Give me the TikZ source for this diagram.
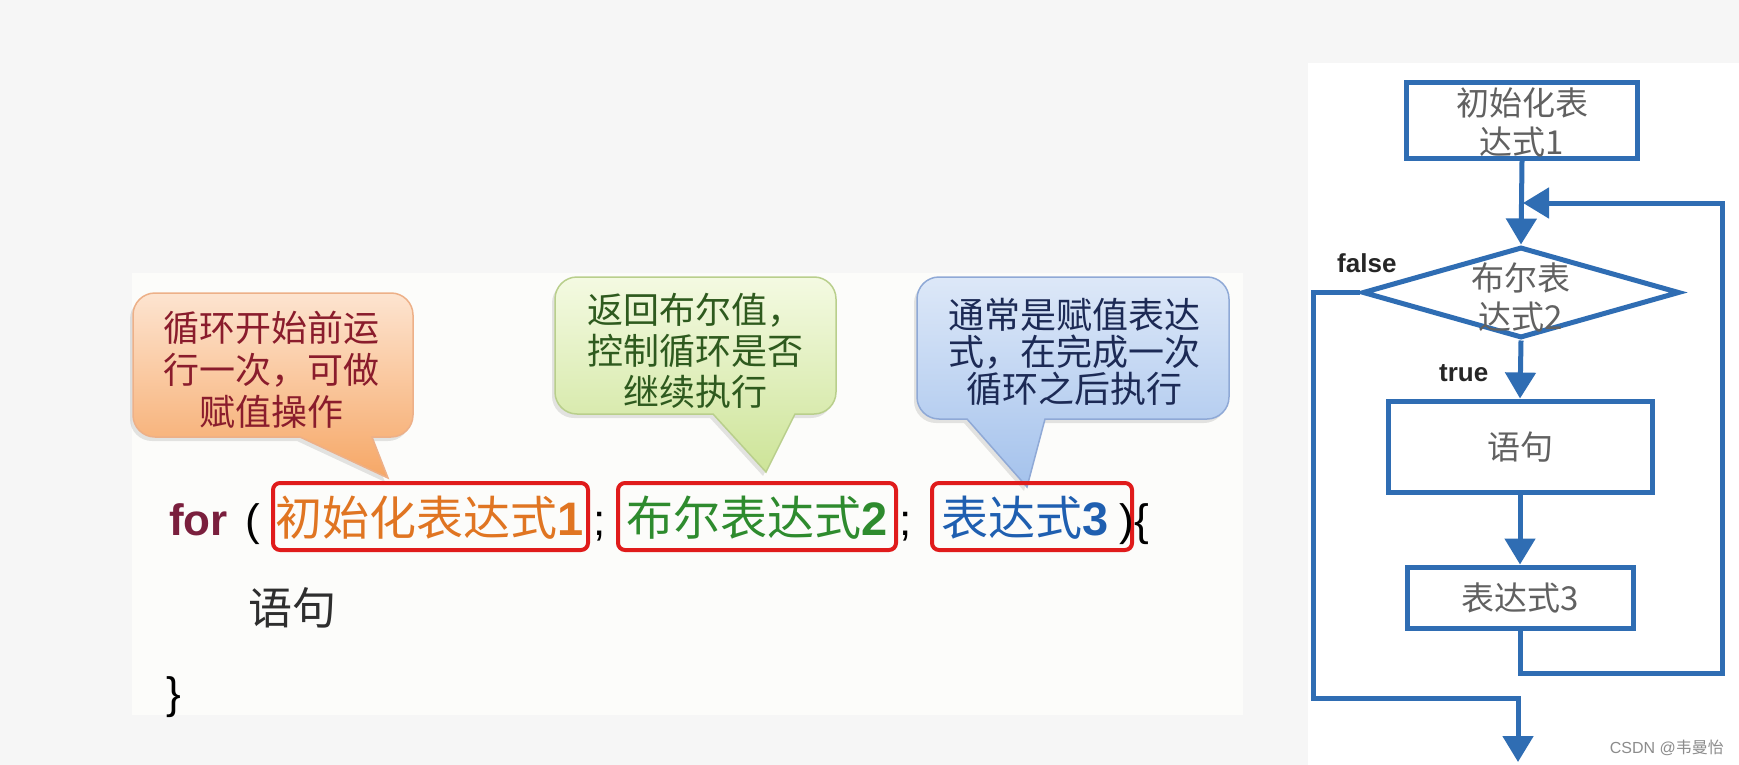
\documentclass[tikz,border=0pt]{standalone}
\usepackage{fontspec}
\setmainfont{Liberation Sans}
\newfontfamily\cjk{Noto Sans CJK SC}
\newfontfamily\lib{Liberation Sans}
\usetikzlibrary{arrows.meta,shapes.geometric}
\definecolor{bgout}{HTML}{F6F6F6}
\definecolor{bgleft}{HTML}{FCFCFA}
\definecolor{fcblue}{HTML}{2F6DB3}
\definecolor{boxred}{HTML}{E01B1B}
\definecolor{forred}{HTML}{7A1F3D}
\definecolor{corange}{HTML}{E07522}
\definecolor{cgreen}{HTML}{2E8B2E}
\definecolor{cblue}{HTML}{1F5FB0}
\definecolor{otext}{HTML}{8A1C2C}
\definecolor{gtext}{HTML}{2E5A1E}
\definecolor{btext}{HTML}{1C2A55}
\definecolor{otop}{HTML}{FDE4D0}
\definecolor{obot}{HTML}{F6A766}
\definecolor{oline}{HTML}{EDB088}
\definecolor{gtop}{HTML}{F4FAE2}
\definecolor{gbot}{HTML}{CDE498}
\definecolor{gline}{HTML}{B9CF8C}
\definecolor{btop}{HTML}{DDE8F8}
\definecolor{bbot}{HTML}{A4C2EC}
\definecolor{bline}{HTML}{8FA9D6}
\newcommand\callpath[9]{(#1+#5,#2) -- (#3-#5,#2) arc[start angle=270,end angle=360,radius=#5] -- (#3,#4-#5) arc[start angle=0,end angle=90,radius=#5] -- (#7,#4) -- (#8,#9) -- (#6,#4) -- (#1+#5,#4) arc[start angle=90,end angle=180,radius=#5] -- (#1,#2+#5) arc[start angle=180,end angle=270,radius=#5] -- cycle}
\begin{document}
\begin{tikzpicture}[x=1pt,y=-1pt,
  ctext/.style={align=center,inner sep=0pt,font=\cjk\fontsize{36}{#1}\selectfont},
  code/.style={inner sep=0pt,font=\cjk\fontsize{47}{52}\selectfont},
  lat/.style={inner sep=0pt,font=\lib\fontsize{44}{50}\selectfont},
  redbox/.style={draw=boxred,line width=4pt,rounded corners=7pt,minimum height=67pt,inner sep=0pt},
  fcbox/.style={draw=fcblue,line width=5pt,inner sep=0pt},
  fctext/.style={align=center,inner sep=0pt,text=black!62,font=\cjk\fontsize{33}{39}\selectfont},
  fcline/.style={draw=fcblue,line width=5pt},
  arr/.style={-{Triangle[width=30pt,length=26pt]}},
  lbl/.style={inner sep=0pt,text=black!85,font=\lib\bfseries\fontsize{26}{30}\selectfont}]
\useasboundingbox (0,0) rectangle (1739,765);
\fill[bgout] (0,0) rectangle (1739,765);
\fill[bgleft] (132,273) rectangle (1243,715);
\fill[white] (1308,63) rectangle (1739,765);

% callout shadows
\fill[black,opacity=0.10] [shift={(-3,4)}] \callpath{133}{293}{413}{437}{22}{300}{372}{388}{478};
\fill[black,opacity=0.10] [shift={(-3,4)}] \callpath{555}{277}{836}{414}{22}{713}{795}{766}{472};
\fill[black,opacity=0.10] [shift={(-3,4)}] \callpath{917}{277}{1229}{419}{22}{967}{1045}{1027}{487};
% callouts
\draw[line width=1.5pt,draw=oline,top color=otop,bottom color=obot] \callpath{133}{293}{413}{437}{22}{300}{372}{388}{478};
\draw[line width=1.5pt,draw=gline,top color=gtop,bottom color=gbot] \callpath{555}{277}{836}{414}{22}{713}{795}{766}{472};
\draw[line width=1.5pt,draw=bline,top color=btop,bottom color=bbot] \callpath{917}{277}{1229}{419}{22}{967}{1045}{1027}{487};

\node[ctext=42,text=otext] (co1) at (271,370) {循环开始前运\\行一次，可做\\赋值操作};
\node[ctext=41,text=gtext] (co2) at (695,351) {返回布尔值，\\控制循环是否\\继续执行};
\node[ctext=37,text=btext] (co3) at (1074,352) {通常是赋值表达\\式，在完成一次\\循环之后执行};

% code
\node[lat,anchor=base west,text=forred,font=\lib\bfseries\fontsize{44}{50}\selectfont] (for) at (169,535) {for};
\node[lat,anchor=base west] (lp) at (245,535) {(};
\node[redbox,minimum width=315pt] (b1) at (430.5,516.5) {};
\node[redbox,minimum width=278pt] (b2) at (757,516.5) {};
\node[redbox,minimum width=200pt] (b3) at (1032,516.5) {};
\node[code,text=corange] (e1) at (430,518) {初始化表达式{\lib\bfseries 1}};
\node[code,text=cgreen] (e2) at (757,518) {布尔表达式{\lib\bfseries 2}};
\node[code,text=cblue] (e3t) at (1025,518) {表达式{\lib\bfseries 3}};
\node[lat,anchor=base west] (s1) at (593,535) {;};
\node[lat,anchor=base west] (s2) at (899,535) {;};
\node[lat,anchor=base west] (rp) at (1119,535) {)};
\node[lat,anchor=base west] (lb) at (1134,535) {\{};
\node[code,text=black!82,font=\cjk\fontsize{44}{50}\selectfont] (st) at (292,608) {语句};
\node[lat,anchor=base west] (rb) at (166,708) {\}};

% flowchart
\node[fcbox,minimum width=231pt,minimum height=75pt] (init) at (1522,120.5) {};
\node[fctext] (initt) at (1522,122.5) {初始化表\\达式1};
\node[diamond,draw=fcblue,line width=5pt,inner sep=0pt,minimum width=317pt,minimum height=91pt] (dec) at (1521,292.5) {};
\node[fctext] (dect) at (1521,297.5) {布尔表\\达式2};
\node[fcbox,minimum width=264pt,minimum height=91pt] (stmt) at (1520,446.5) {};
\node[fctext] (stmtt) at (1520,447) {语句};
\node[fcbox,minimum width=226pt,minimum height=61pt] (e3) at (1520,597.5) {};
\node[fctext] (e3tt) at (1520,598) {表达式3};

\coordinate (lp1) at (1520,673);
\coordinate (lp2) at (1722,673);
\coordinate (lp3) at (1722,203);
\coordinate (lp4) at (1523,203);
\coordinate (f1) at (1313,292.5);
\coordinate (f2) at (1313,698);
\coordinate (f3) at (1518,698);
\coordinate (f4) at (1518,762);

\draw[fcline,arr] (init.south) -- (dec.north);
\draw[fcline,arr] (dec.south) -- (stmt.north);
\draw[fcline,arr] (stmt.south) -- (e3.north);
\draw[fcline,arr] (e3.south) -- (lp1) -- (lp2) -- (lp3) -- (lp4);
\draw[fcline,arr] (dec.west) -- (f1) -- (f2) -- (f3) -- (f4);

\node[lbl,anchor=west] (fl) at (1337,263) {false};
\node[lbl,anchor=west] (tl) at (1439,373) {true};
\node[inner sep=0pt,anchor=east,text=black!45,font=\lib\fontsize{16}{18}\selectfont] (wm) at (1724,748) {CSDN @{\cjk 韦曼怡}};
\end{tikzpicture}
\end{document}
